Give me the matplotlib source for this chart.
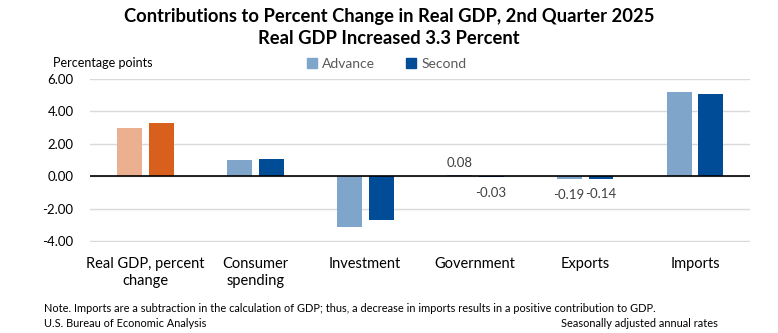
import numpy as np
import matplotlib
matplotlib.use("Agg")
import matplotlib.pyplot as plt
from matplotlib.patches import Patch

plt.rcParams["font.family"] = ["Lato", "DejaVu Sans"]

categories = ["Real GDP, percent\nchange", "Consumer\nspending", "Investment",
              "Government", "Exports", "Imports"]
advance = [3.00, 0.98, -3.09, 0.08, -0.19, 5.18]
second = [3.30, 1.07, -2.68, -0.03, -0.14, 5.08]
labelled = [3, 4]  # categories whose values are printed

adv_colors = ["#EBB08F"] + ["#7FA5CB"] * 5
sec_colors = ["#D9601C"] + ["#004C97"] * 5

fig = plt.figure(figsize=(7.78, 3.33), dpi=100)
ax = fig.add_axes([0.116, 0.273, 0.848, 0.49])

x = np.arange(len(categories))
w = 0.227
off = 0.145
ax.bar(x - off, advance, w, color=adv_colors, zorder=2)
ax.bar(x + off, second, w, color=sec_colors, zorder=2)

for i in labelled:
    for xi, v in ((x[i] - off, advance[i]), (x[i] + off, second[i])):
        if v >= 0:
            ax.text(xi, v + 0.4, f"{v:.2f}", ha="center", va="bottom",
                    fontsize=9.5, color="#404040")
        else:
            ax.text(xi, v - 0.6, f"{v:.2f}", ha="center", va="top",
                    fontsize=9.5, color="#404040")

ax.set_xlim(-0.5, len(categories) - 0.5)
ax.set_ylim(-4.05, 6)
ax.set_yticks([-4, -2, 0, 2, 4, 6])
ax.set_yticklabels([f"{t:.2f}" for t in [-4, -2, 0, 2, 4, 6]])
ax.set_xticks(x)
ax.set_xticklabels(categories, fontsize=10.5)
ax.tick_params(axis="both", length=0, colors="black")
ax.tick_params(axis="y", labelsize=9.5, pad=12)
ax.tick_params(axis="x", pad=11)
ax.grid(axis="y", color="#D9D9D9", linewidth=1, zorder=0)
ax.axhline(0, color="black", linewidth=1.2, zorder=3)
for s in ax.spines.values():
    s.set_visible(False)

fig.text(0.5, 0.95, "Contributions to Percent Change in Real GDP, 2nd Quarter 2025",
         ha="center", va="center", fontsize=13.2, fontweight="bold")
fig.text(0.5, 0.883, "Real GDP Increased 3.3 Percent",
         ha="center", va="center", fontsize=13.2, fontweight="bold")
fig.text(0.068, 0.812, "Percentage points", fontsize=9, va="center")

handles = [Patch(color="#7FA5CB"), Patch(color="#004C97")]
fig.legend(handles, ["Advance", "Second"], loc="center", bbox_to_anchor=(0.497, 0.808),
           ncol=2, frameon=False, fontsize=10, handlelength=0.7, handleheight=0.7,
           handletextpad=0.4, columnspacing=2.2, labelcolor="#595959")

fig.text(0.057, 0.075, "Note. Imports are a subtraction in the calculation of GDP; thus, a decrease "
         "in imports results in a positive contribution to GDP.", fontsize=7.9, va="center")
fig.text(0.057, 0.03, "U.S. Bureau of Economic Analysis", fontsize=7.9, va="center")
fig.text(0.923, 0.03, "Seasonally adjusted annual rates", fontsize=7.9, va="center", ha="right")

fig.savefig("out.png", dpi=100)
